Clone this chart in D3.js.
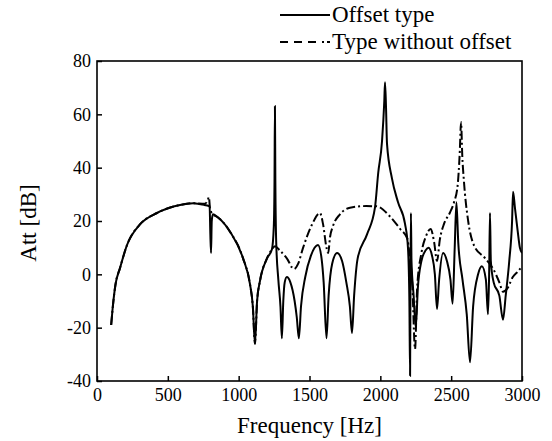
<!DOCTYPE html>
<html>
<head>
<meta charset="utf-8">
<script src="https://cdn.jsdelivr.net/npm/d3@7"></script>
<style>
  body{ margin:0; background:#fff; }
  text{ font-family:"Liberation Serif","Times New Roman",serif; fill:#000; }
</style>
</head>
<body>
<svg width="552" height="441"></svg>
<script>
// Offset type (solid)
var offsetFreq = [100,110,130,162,212,303,423,586,680,760,795,800,805,810,818,850,939,1031,1080,1100,1115,1130,1150,1200,1235,1248,1253,1256,1259,1265,1280,1295,1305,1315,1325,1340,1365,1395,1410,1425,1440,1470,1510,1560,1585,1600,1620,1635,1660,1695,1730,1760,1785,1800,1815,1840,1906,1962,1985,2012,2028,2033,2040,2047,2082,2125,2174,2195,2205,2210,2213,2216,2220,2235,2250,2265,2290,2320,2340,2365,2385,2400,2415,2443,2470,2495,2510,2525,2537,2550,2580,2610,2633,2655,2690,2717,2745,2760,2768,2774,2780,2800,2840,2866,2885,2910,2930,2937,2950,2970,2985,3000];
var offsetAtt  = [-19,-13,-4,2.3,11,18.7,23,26,26.7,26,25.5,15,8,20,22.5,21.5,16,6,-3.7,-12,-26,-10,-2.6,6,9.4,18,35,63,35,12,-2,-12,-24,-10,-3,-1,-3,-10,-16,-24,-12,-1,7,11,6,-3,-24,-8,4,8,5,-3,-12,-22,-8,6,15,25,38,50,65,72,63,49,36,27,19,10,-10,-38,0,23,5,-8,-20,-5,5,9,10,7,0,-13,-2,8,5,-2,-11,10,27,12,-2,-15,-33,-12,0,3,-2,-15,0,23,5,-3,-8,-17,-8,5,20,31,25,16,10,8];

// Type without offset (dashed)
var plainFreq = [100,110,130,162,212,303,423,586,680,760,780,790,797,805,818,850,939,1031,1080,1100,1115,1130,1150,1200,1235,1256,1290,1340,1390,1420,1455,1518,1574,1595,1620,1632,1645,1665,1715,1786,1900,1975,2068,2140,2190,2205,2225,2245,2260,2290,2320,2355,2380,2400,2420,2450,2490,2520,2545,2560,2570,2578,2590,2620,2660,2740,2797,2840,2866,2900,2935,2970,3000];
var plainAtt  = [-19,-13,-4,2.3,11,18.7,23,26,26.7,26.5,27.5,29,25,23.5,22.5,21.5,16,6,-3.7,-12,-26,-10,-2.6,6,9.4,10.5,9,6,2,4,10,18.7,23,19,10,8,14,18,22.5,25,25.6,25.5,21.7,17,13.5,8,-3,-28,-5,8,14,17,12,5,13,19,23,27,33,45,57,45,35,20,11,6,2,-3,-6.5,-5,-1,1,3];

var xTicks = [0,500,1000,1500,2000,2500,3000];
var yTicks = [-40,-20,0,20,40,60,80];

var svg = d3.select('svg');
var m = { left:97, right:522, top:61, bottom:381 };

var x = d3.scaleLinear().domain([0,3000]).range([m.left,m.right]);
var y = d3.scaleLinear().domain([-40,80]).range([m.bottom,m.top]);

svg.append('clipPath').attr('id','plotclip')
   .append('rect').attr('x',m.left).attr('y',m.top)
   .attr('width',m.right-m.left).attr('height',m.bottom-m.top);

var plain = function(d){ return String(d); };

var yAxis = svg.append('g')
   .attr('transform','translate('+m.left+',0)')
   .call(d3.axisLeft(y).tickValues(yTicks).tickSize(-5).tickPadding(6).tickFormat(plain));
var xAxis = svg.append('g')
   .attr('transform','translate(0,'+m.bottom+')')
   .call(d3.axisBottom(x).tickValues(xTicks).tickSize(-5).tickPadding(7).tickFormat(plain));

[yAxis,xAxis].forEach(function(g){
  g.select('.domain').remove();
  g.selectAll('line').attr('stroke','#000').attr('stroke-width',1.5);
  g.selectAll('text').style('font-family','"Liberation Serif",serif').style('font-size','18px').attr('fill','#000');
});

svg.append('rect').attr('x',m.left).attr('y',m.top)
   .attr('width',m.right-m.left).attr('height',m.bottom-m.top)
   .attr('fill','none').attr('stroke','#000').attr('stroke-width',1.6);

var line = d3.line()
   .x(function(d){ return x(d[0]); })
   .y(function(d){ return y(d[1]); })
   .curve(d3.curveMonotoneX);

var plot = svg.append('g').attr('clip-path','url(#plotclip)');

plot.append('path')
   .datum(d3.zip(plainFreq,plainAtt))
   .attr('d',line).attr('fill','none')
   .attr('stroke','#000').attr('stroke-width',2)
   .attr('stroke-dasharray','9,3,2,3');

plot.append('path')
   .datum(d3.zip(offsetFreq,offsetAtt))
   .attr('d',line).attr('fill','none')
   .attr('stroke','#000').attr('stroke-width',2);

// axis titles
svg.append('text').attr('x',(m.left+m.right)/2).attr('y',433)
   .attr('text-anchor','middle').style('font-size','23px')
   .text('Frequency [Hz]');
svg.append('text').attr('transform','translate(36,223) rotate(-90)')
   .attr('text-anchor','middle').style('font-size','23px')
   .text('Att [dB]');

// legend
var legend = svg.append('g');
legend.append('line').attr('x1',280).attr('x2',330).attr('y1',15).attr('y2',15)
   .attr('stroke','#000').attr('stroke-width',2);
legend.append('line').attr('x1',280).attr('x2',330).attr('y1',42).attr('y2',42)
   .attr('stroke','#000').attr('stroke-width',2).attr('stroke-dasharray','8,6,8,6,8,6,2,3');
legend.append('text').attr('x',332).attr('y',22).style('font-size','23px').text('Offset type');
legend.append('text').attr('x',332).attr('y',49).style('font-size','23px').text('Type without offset');
</script>
</body>
</html>
